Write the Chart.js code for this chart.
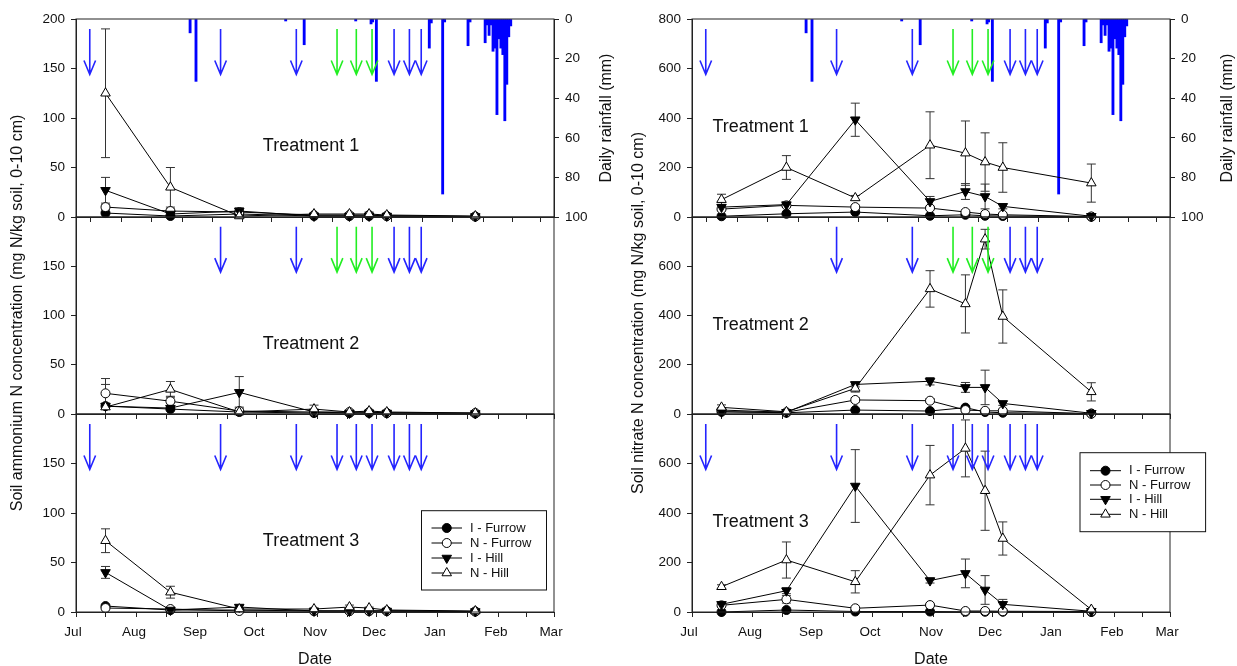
<!DOCTYPE html>
<html><head><meta charset="utf-8">
<script src="https://cdn.jsdelivr.net/npm/chart.js@4.4.1/dist/chart.umd.min.js"></script>
<style>
html,body{margin:0;padding:0;background:#fff;}
#wrap{position:relative;width:1237px;height:666px;overflow:hidden;background:#fff;}
#wrap canvas{position:absolute;top:0;}
</style></head><body><div id="wrap"></div>
<script>
const FONT = "'Liberation Sans', Arial, Helvetica, sans-serif";

// ---- axes / categories ----
const monthLabels = ['Jul','Aug','Sep','Oct','Nov','Dec','Jan','Feb','Mar'];
const monthStartDays = [0,31,62,92,123,153,184,215,243];   // days since 1 Jul
const midMonthDays = [15,46,77,107,138,168,199,229];
const sampleDays = [15,48,83,121,139,149,158,203];
const seriesNames = ['I - Furrow','N - Furrow','I - Hill','N - Hill'];
const treatmentNames = ['Treatment 1','Treatment 2','Treatment 3'];

// ---- daily rainfall (mm) ----
const rainDays = [58,61,106.6,116,142.2,150,150.8,152.7,179.6,180.6,186.4,187.4,199.3,200.3,208,209,210,211,212,213,214,215,216,217,218,219,220,221];
const rainMm   = [7,31.5,1,13,1,2.5,1.5,31.5,14.7,2,88.4,1.5,13.5,1.5,12,3,8.3,3,16.3,14.7,48.3,10,14.7,18,51.4,33,9,3.5];

// ---- irrigation / fertiliser events (arrows) ----
const arrowDays = [7,73.5,112,132.7,142.5,150.5,161.7,169.5,175.5];
const arrowKindsT1 = ['b','b','b','g','g','g','b','b','b'];
const arrowKindsT2 = ['','b','b','g','g','g','b','b','b'];
const arrowKindsT3 = ['b','b','b','b','b','b','b','b','b'];

// ---- soil ammonium N (mg N/kg) ----
const ammT1_IF = [4,1,3,1,1,1,1,0.5];      const ammT1_IF_err = [1,0.5,1,0,0,0.5,0,0];
const ammT1_NF = [10,6,5,2,2,2,1,0.5];     const ammT1_NF_err = [2,2,4,1,1,1,0.5,0];
const ammT1_IH = [27,3,6,1,1,1,1,0.5];     const ammT1_IH_err = [13,1,3,0.5,0.5,0.5,0,0];
const ammT1_NH = [125,30,1,3,3,3,2,1];     const ammT1_NH_err = [65,20,1,1,1,2,1,0.5];

const ammT2_IF = [8,5,2,1,1,1,1,0.5];      const ammT2_IF_err = [2,1,1,0,0,0,0,0];
const ammT2_NF = [21,13,3,2,2,2,1,1];      const ammT2_NF_err = [15,5,4,1,1,1,0,0];
const ammT2_IH = [8,6,22,2,1,1,1,0.5];     const ammT2_IH_err = [3,1,16,1,0,0,0,0];
const ammT2_NH = [7,25,2,5,2,3,2,1];       const ammT2_NH_err = [23,8,1,4,1,1,1,0];

const ammT3_IF = [6,2,2,1,1,1,1,0.5];      const ammT3_IF_err = [1,0.5,0.5,0,0,0,0,0];
const ammT3_NF = [4,3,1,1,1,1,1,0.5];      const ammT3_NF_err = [1,1,0.5,0,0,0,0,0];
const ammT3_IH = [40,2,5,1,1,1,1,0.5];     const ammT3_IH_err = [6,1,2,0,0,0,0,0];
const ammT3_NH = [72,20,3,3,5,4,2,1];      const ammT3_NH_err = [12,6,1,1,2,1,1,0];

// ---- soil nitrate N (mg N/kg) ----
const nitT1_IF = [3,13,20,5,9,5,4,1];            const nitT1_IF_err = [2,3,5,2,2,2,1,1];
const nitT1_NF = [32,47,40,36,20,12,9,2];        const nitT1_NF_err = [5,5,5,5,3,3,2,1];
const nitT1_IH = [40,50,393,63,103,83,43,3];     const nitT1_IH_err = [8,10,67,20,32,50,10,1];
const nitT1_NH = [70,200,77,290,258,222,200,137];const nitT1_NH_err = [22,48,10,135,130,118,100,77];

const nitT2_IF = [9,5,16,12,26,8,5,2];           const nitT2_IF_err = [2,1,3,3,5,2,1,1];
const nitT2_NF = [16,7,57,54,16,13,13,1];        const nitT2_NF_err = [5,2,8,8,5,3,3,1];
const nitT2_IH = [9,7,120,133,108,108,43,3];     const nitT2_IH_err = [3,2,10,15,20,70,8,1];
const nitT2_NH = [27,9,104,508,447,710,396,90];  const nitT2_NH_err = [10,3,15,74,118,40,108,37];

const nitT3_IF = [0,8,2,2,1,1,1,0];              const nitT3_IF_err = [1,2,1,1,1,1,1,0];
const nitT3_NF = [27,51,15,28,4,4,3,2];          const nitT3_NF_err = [3,15,5,5,2,2,2,1];
const nitT3_IH = [31,86,509,127,156,89,31,3];    const nitT3_IH_err = [5,12,147,10,58,58,20,1];
const nitT3_NH = [102,210,122,553,661,490,297,10];const nitT3_NH_err = [8,73,45,120,115,160,67,3];

// ---- assemble ----
const columns = [
  { yMax:200, step:50, yTitle:'Soil ammonium N concentration (mg N/kg soil, 0-10 cm)',
    panels:[
      {vals:[ammT1_IF,ammT1_NF,ammT1_IH,ammT1_NH], errs:[ammT1_IF_err,ammT1_NF_err,ammT1_IH_err,ammT1_NH_err], arrows:arrowKindsT1},
      {vals:[ammT2_IF,ammT2_NF,ammT2_IH,ammT2_NH], errs:[ammT2_IF_err,ammT2_NF_err,ammT2_IH_err,ammT2_NH_err], arrows:arrowKindsT2},
      {vals:[ammT3_IF,ammT3_NF,ammT3_IH,ammT3_NH], errs:[ammT3_IF_err,ammT3_NF_err,ammT3_IH_err,ammT3_NH_err], arrows:arrowKindsT3}
    ]},
  { yMax:800, step:200, yTitle:'Soil nitrate N concentration (mg N/kg soil, 0-10 cm)',
    panels:[
      {vals:[nitT1_IF,nitT1_NF,nitT1_IH,nitT1_NH], errs:[nitT1_IF_err,nitT1_NF_err,nitT1_IH_err,nitT1_NH_err], arrows:arrowKindsT1},
      {vals:[nitT2_IF,nitT2_NF,nitT2_IH,nitT2_NH], errs:[nitT2_IF_err,nitT2_NF_err,nitT2_IH_err,nitT2_NH_err], arrows:arrowKindsT2},
      {vals:[nitT3_IF,nitT3_NF,nitT3_IH,nitT3_NH], errs:[nitT3_IF_err,nitT3_NF_err,nitT3_IH_err,nitT3_NH_err], arrows:arrowKindsT3}
    ]}
];

// styles
const markerStyles = [
  {pointStyle:'circle', rotation:0, radius:4.5, fill:'#000'},
  {pointStyle:'circle', rotation:0, radius:4.5, fill:'#fff'},
  {pointStyle:'triangle', rotation:180, radius:5.5, fill:'#000'},
  {pointStyle:'triangle', rotation:0, radius:5.5, fill:'#fff'}
];
const ARROW_COL = {b:'#2424ff', g:'#22ee22'};
const CANVAS_W = 620, CANVAS_H = 666;
const colLeft = [0, 616];
const panelTops = [19, 217, 414];
const panelBottoms = [217, 414, 612];
const LEFT_W = 76, RIGHT_W = 66, X_H = 30;
const legendBoxes = [
  {x:421.5, y:510.7, w:125, h:79.3, lx1:431.5, lx2:462, tx:470, rows:[528,543,558,573]},
  {x:464, y:452.7, w:125.6, h:79, lx1:474, lx2:505, tx:513, rows:[470.7,485,499.3,514.3]}
];

const wrap = document.getElementById('wrap');

function makeDecor(col, row, colCfg, panel) {
  return {
    id:'decor',
    beforeDatasetsDraw(chart) {
      const ctx = chart.ctx, ys = chart.scales.y, a = chart.chartArea;
      ctx.save();
      ctx.beginPath(); ctx.rect(a.left, a.top - 1, a.right - a.left, a.bottom - a.top + 1); ctx.clip();
      ctx.strokeStyle = '#333'; ctx.lineWidth = 1;
      chart.data.datasets.forEach((ds, i) => {
        if (!ds.errors) return;
        const meta = chart.getDatasetMeta(i);
        meta.data.forEach((el, j) => {
          const e = ds.errors[j]; if (!e) return;
          const v = ds.data[j].y;
          const x = el.x;
          const yt = ys.getPixelForValue(v + e), yb = ys.getPixelForValue(v - e);
          ctx.beginPath();
          ctx.moveTo(x, yt); ctx.lineTo(x, yb);
          ctx.moveTo(x - 4.5, yt); ctx.lineTo(x + 4.5, yt);
          ctx.moveTo(x - 4.5, yb); ctx.lineTo(x + 4.5, yb);
          ctx.stroke();
        });
      });
      ctx.restore();
    },
    afterDatasetsDraw(chart) {
      const ctx = chart.ctx, xs = chart.scales.x, ys = chart.scales.y;
      const yTop = ys.getPixelForValue(colCfg.yMax * 0.95);
      const yTip = ys.getPixelForValue(colCfg.yMax * 0.72);
      ctx.save();
      ctx.lineWidth = 1.6;
      arrowDays.forEach((d, i) => {
        const k = panel.arrows[i]; if (!k) return;
        const x = xs.getPixelForValue(d);
        ctx.strokeStyle = ARROW_COL[k];
        ctx.beginPath();
        ctx.moveTo(x, yTop); ctx.lineTo(x, yTip);
        ctx.moveTo(x - 5.8, yTip - 14); ctx.lineTo(x, yTip); ctx.lineTo(x + 5.8, yTip - 14);
        ctx.stroke();
      });
      ctx.restore();
    },
    afterDraw(chart) {
      const ctx = chart.ctx, a = chart.chartArea;
      ctx.save();
      // frame
      ctx.strokeStyle = '#222'; ctx.lineWidth = 1;
      ctx.strokeRect(a.left, a.top, a.right - a.left, a.bottom - a.top);
      // treatment label
      ctx.fillStyle = '#111';
      ctx.font = '18px ' + FONT;
      ctx.textBaseline = 'middle';
      if (col === 0) {
        ctx.textAlign = 'center';
        ctx.fillText(treatmentNames[row], a.left + 235, a.top + 127);
      } else {
        ctx.textAlign = 'left';
        ctx.fillText(treatmentNames[row], a.left + 20.5, a.top + 108.5);
      }
      // rainfall title
      if (row === 0) {
        ctx.save();
        ctx.font = '16px ' + FONT;
        ctx.translate(col === 0 ? 607 : 612, (a.top + a.bottom) / 2);
        ctx.rotate(-Math.PI / 2);
        ctx.textAlign = 'center'; ctx.textBaseline = 'middle';
        ctx.fillText('Daily rainfall (mm)', 0, 0);
        ctx.restore();
      }
      if (row === 2) {
        // y title spanning all panels
        ctx.save();
        ctx.font = '16px ' + FONT;
        ctx.translate(col === 0 ? 18 : 23, 313);
        ctx.rotate(-Math.PI / 2);
        ctx.textAlign = 'center'; ctx.textBaseline = 'middle';
        ctx.fillText(colCfg.yTitle, 0, 0);
        ctx.restore();
        // x title
        ctx.font = '16px ' + FONT;
        ctx.textAlign = 'center'; ctx.textBaseline = 'middle';
        ctx.fillText('Date', (a.left + a.right) / 2, 660);
        // legend
        const L = legendBoxes[col];
        ctx.fillStyle = '#fff';
        ctx.fillRect(L.x, L.y, L.w, L.h);
        ctx.strokeStyle = '#111'; ctx.lineWidth = 1;
        ctx.strokeRect(L.x, L.y, L.w, L.h);
        ctx.font = '13px ' + FONT;
        ctx.textAlign = 'left'; ctx.textBaseline = 'middle';
        seriesNames.forEach((name, i) => {
          const y = L.rows[i];
          ctx.strokeStyle = '#000'; ctx.lineWidth = 1;
          ctx.beginPath(); ctx.moveTo(L.lx1, y); ctx.lineTo(L.lx2, y); ctx.stroke();
          const m = markerStyles[i];
          ctx.fillStyle = m.fill; ctx.strokeStyle = '#000';
          Chart.helpers.drawPoint(ctx, {pointStyle:m.pointStyle, rotation:m.rotation, radius:m.radius, borderWidth:1}, (L.lx1 + L.lx2) / 2, y);
          ctx.fillStyle = '#111';
          ctx.fillText(name, L.tx, y);
        });
      }
      ctx.restore();
    }
  };
}

function makePanel(col, row) {
  const colCfg = columns[col];
  const panel = colCfg.panels[row];
  const canvas = document.createElement('canvas');
  canvas.width = CANVAS_W; canvas.height = CANVAS_H;
  canvas.style.left = colLeft[col] + 'px';
  canvas.style.width = CANVAS_W + 'px'; canvas.style.height = CANVAS_H + 'px';
  wrap.appendChild(canvas);

  const datasets = [];
  seriesNames.forEach((name, i) => {
    const m = markerStyles[i];
    datasets.push({
      type:'line', label:name,
      data: sampleDays.map((d, j) => ({x:d, y:panel.vals[i][j]})),
      errors: panel.errs[i],
      borderColor:'#000', borderWidth:1, tension:0, fill:false,
      pointStyle:m.pointStyle, pointRotation:m.rotation, pointRadius:m.radius,
      pointBackgroundColor:m.fill, pointBorderColor:'#000', pointBorderWidth:1,
      clip:false, order: 3 - i, xAxisID:'x', yAxisID:'y'
    });
  });
  if (row === 0) {
    datasets.push({
      type:'bar', label:'Rainfall',
      data: rainDays.map((d, j) => ({x:d, y:rainMm[j]})),
      backgroundColor:'#0000ff', borderWidth:0, barThickness:2.2,
      xAxisID:'x', yAxisID:'rain', order:10
    });
  }

  const tickFont = {family:FONT, size:13.5};
  const scales = {
    x: {
      type:'linear', min:0, max:243, offset:false,
      afterBuildTicks(s) { s.ticks = monthStartDays.concat(midMonthDays).sort((p,q)=>p-q).map(v => ({value:v})); },
      afterFit(s) { s.height = X_H; },
      ticks: { display: row === 2, autoSkip:false, maxRotation:0, padding:7, labelOffset:-3, color:'#111', font:tickFont,
        callback(v) { const k = monthStartDays.indexOf(v); return k >= 0 ? monthLabels[k] : ''; } },
      grid: { drawOnChartArea:false, drawTicks:true, tickLength:5, color:'#222' },
      border: { color:'#222', width:1 }
    },
    y: {
      type:'linear', position:'left', min:0, max:colCfg.yMax,
      afterFit(s) { s.width = LEFT_W; },
      ticks: { stepSize:colCfg.step, padding:6, color:'#111', font:tickFont,
        callback(v) { return (row > 0 && v === colCfg.yMax) ? '' : v; } },
      grid: { drawOnChartArea:false, drawTicks:true, tickLength:5, color:'#222' },
      border: { color:'#222', width:1 }
    }
  };
  if (row === 0) {
    scales.rain = {
      type:'linear', position:'right', min:0, max:100, reverse:true,
      afterFit(s) { s.width = RIGHT_W; },
      ticks: { stepSize:20, padding:6, color:'#111', font:tickFont },
      grid: { drawOnChartArea:false, drawTicks:true, tickLength:5, color:'#222' },
      border: { color:'#222', width:1 }
    };
  }

  new Chart(canvas, {
    type:'line',
    data:{ datasets },
    options:{
      responsive:false, animation:false,
      layout:{ padding:{ top:panelTops[row], bottom:CANVAS_H - panelBottoms[row] - X_H, left:0, right: row === 0 ? 0 : RIGHT_W } },
      plugins:{ legend:{display:false}, tooltip:{enabled:false}, title:{display:false} },
      scales
    },
    plugins:[ makeDecor(col, row, colCfg, panel) ]
  });
}

for (let c = 0; c < 2; c++) for (let r = 0; r < 3; r++) makePanel(c, r);
</script>
</body></html>
